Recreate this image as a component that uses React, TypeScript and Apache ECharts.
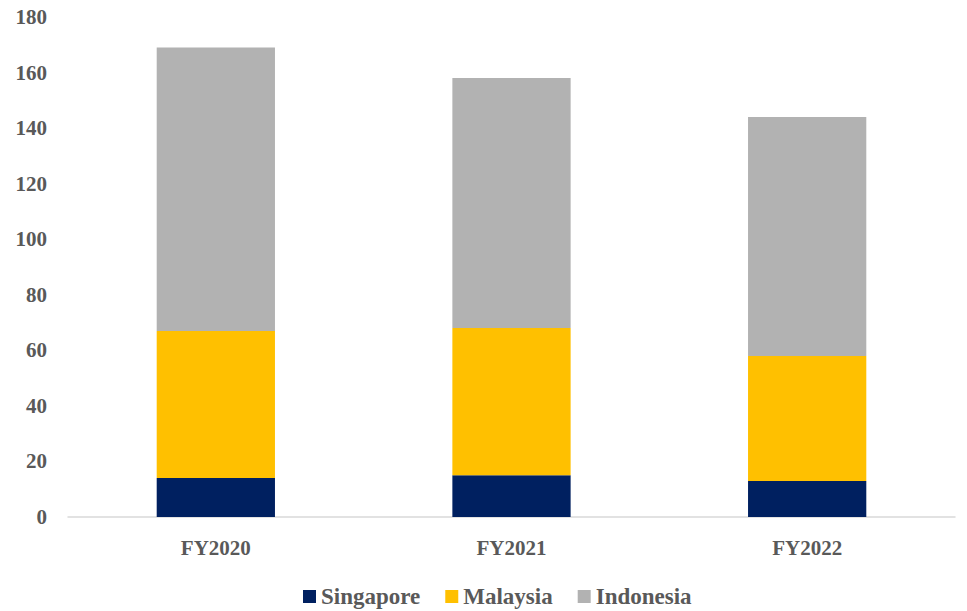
import React, { useEffect, useRef } from "react";
import * as echarts from "echarts";

const categories = ["FY2020", "FY2021", "FY2022"];
const singapore = [14, 15, 13];
const malaysia = [53, 53, 45];
const indonesia = [102, 90, 86];
const seriesNames = ["Singapore", "Malaysia", "Indonesia"];
const colors = ["#002060", "#FFC000", "#B2B2B2"];

const FONT = "'Liberation Serif', 'DejaVu Serif', serif";

export default function App() {
  const ref = useRef<HTMLDivElement>(null);
  useEffect(() => {
    if (!ref.current) return;
    const chart = echarts.init(ref.current, undefined, { renderer: "svg" });
    const dataSets = [singapore, malaysia, indonesia];
    chart.setOption({
      animation: false,
      textStyle: { fontFamily: FONT },
      grid: { left: 68, right: 12, top: 17, bottom: 94 },
      legend: {
        top: 580,
        left: 298,
        itemWidth: 13,
        itemHeight: 13,
        itemGap: 25,
        icon: "rect",
        textStyle: { fontFamily: FONT, fontWeight: "bold", fontSize: 23, color: "#595959" },
        data: seriesNames,
      },
      xAxis: {
        type: "category",
        data: categories,
        axisLine: { lineStyle: { color: "#D9D9D9", width: 1.5 } },
        axisTick: { show: false },
        axisLabel: { fontFamily: FONT, fontWeight: "bold", fontSize: 21, color: "#595959", margin: 20 },
      },
      yAxis: {
        type: "value",
        min: 0,
        max: 180,
        interval: 20,
        splitLine: { show: false },
        axisLine: { show: false },
        axisTick: { show: false },
        axisLabel: { fontFamily: FONT, fontWeight: "bold", fontSize: 21, color: "#595959", margin: 21 },
      },
      series: seriesNames.map((name, i) => ({
        name,
        type: "bar",
        stack: "total",
        barWidth: "40%",
        data: dataSets[i],
        itemStyle: { color: colors[i] },
      })),
    });
    return () => chart.dispose();
  }, []);
  return (
    <div
      ref={ref}
      style={{ position: "absolute", left: 0, top: 0, width: 967, height: 611 }}
    />
  );
}
